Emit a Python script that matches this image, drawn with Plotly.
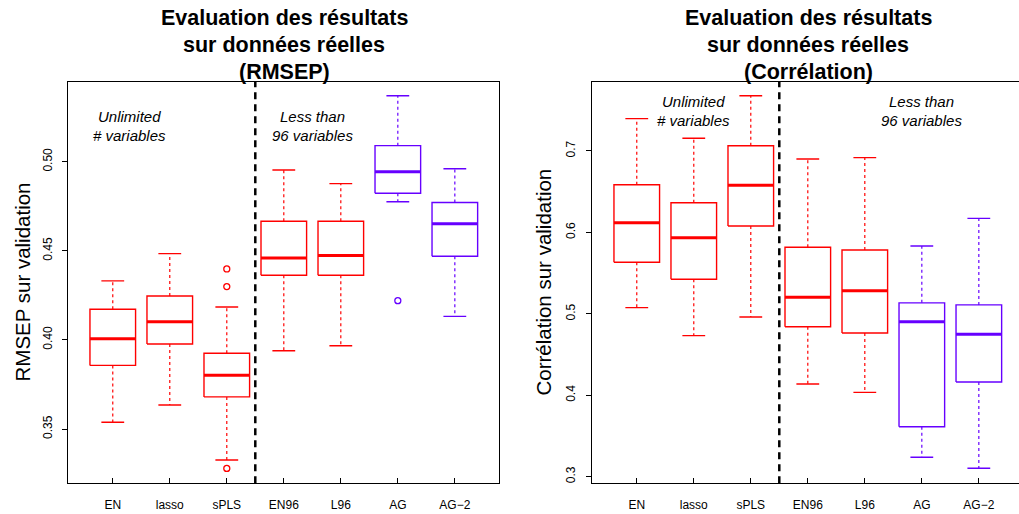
import plotly.graph_objects as go

# ---------------- data ----------------
categories = ["EN", "lasso", "sPLS", "EN96", "L96", "AG", "AG\u22122"]
box_colors = ["#FF0000", "#FF0000", "#FF0000", "#FF0000", "#FF0000", "#6600FF", "#6600FF"]

# RMSEP panel
rmsep_lower = [0.3538, 0.3635, 0.3326, 0.3939, 0.3967, 0.4775, 0.4132]
rmsep_q1 = [0.3857, 0.3977, 0.3680, 0.4363, 0.4363, 0.4823, 0.4469]
rmsep_median = [0.4007, 0.4102, 0.3801, 0.4460, 0.4473, 0.4943, 0.4652]
rmsep_q3 = [0.4172, 0.4246, 0.3925, 0.4666, 0.4666, 0.5090, 0.4771]
rmsep_upper = [0.4331, 0.4484, 0.4185, 0.4953, 0.4877, 0.5370, 0.4960]
rmsep_outlier_cat = ["sPLS", "sPLS", "sPLS", "AG"]
rmsep_outlier_val = [0.4398, 0.4299, 0.3279, 0.4220]
rmsep_ticks = [0.35, 0.40, 0.45, 0.50]
rmsep_ticktext = ["0.35", "0.40", "0.45", "0.50"]

# Correlation panel
corr_lower = [0.5076, 0.4732, 0.4961, 0.4139, 0.4036, 0.3238, 0.3103]
corr_q1 = [0.5633, 0.5424, 0.6079, 0.4842, 0.4765, 0.3614, 0.4163]
corr_median = [0.6120, 0.5935, 0.6579, 0.5203, 0.5284, 0.4904, 0.4749]
corr_q3 = [0.6586, 0.6365, 0.7065, 0.5817, 0.5784, 0.5135, 0.5110]
corr_upper = [0.7397, 0.7156, 0.7679, 0.6902, 0.6918, 0.5833, 0.6173]
corr_ticks = [0.3, 0.4, 0.5, 0.6, 0.7]
corr_ticktext = ["0.3", "0.4", "0.5", "0.6", "0.7"]

titles = [["Evaluation des résultats", "sur données réelles", "(RMSEP)"],
          ["Evaluation des résultats", "sur données réelles", "(Corrélation)"]]
ytitles = ["RMSEP sur validation", "Corrélation sur validation"]
group_notes = [["Unlimited", "# variables"], ["Less than", "96 variables"]]

# ---------------- layout helpers ----------------
W, H = 1019, 514
FONT = "Liberation Sans, Arial, sans-serif"


def px(x):
    return x / W


def py(y):
    return 1 - y / H


HALF = 0.4     # half box width (R boxwex 0.8)
CAP = 0.2      # half staple width
fig = go.Figure()


def add_boxes(xa, ya, lower, q1, med, q3, upper, out_cat, out_val):
    for col in sorted(set(box_colors)):
        idx = [i for i, c in enumerate(box_colors) if c == col]
        bx, by, mx, my, wx, wy, cx, cy = [], [], [], [], [], [], [], []
        for i in idx:
            p = i + 1
            bx += [p - HALF, p + HALF, p + HALF, p - HALF, p - HALF, None]
            by += [q1[i], q1[i], q3[i], q3[i], q1[i], None]
            mx += [p - HALF, p + HALF, None]
            my += [med[i], med[i], None]
            wx += [p, p, None, p, p, None]
            wy += [q3[i], upper[i], None, q1[i], lower[i], None]
            cx += [p - CAP, p + CAP, None, p - CAP, p + CAP, None]
            cy += [upper[i], upper[i], None, lower[i], lower[i], None]
        common = dict(xaxis=xa, yaxis=ya, mode="lines", showlegend=False, hoverinfo="skip")
        fig.add_trace(go.Scatter(x=wx, y=wy, line=dict(color=col, width=1.2, dash="3px,3px"), **common))
        fig.add_trace(go.Scatter(x=cx, y=cy, line=dict(color=col, width=1.4), **common))
        fig.add_trace(go.Scatter(x=bx, y=by, line=dict(color=col, width=1.4), **common))
        fig.add_trace(go.Scatter(x=mx, y=my, line=dict(color=col, width=3), **common))
    if out_cat:
        ox = [categories.index(c) + 1 for c in out_cat]
        oc = [box_colors[categories.index(c)] for c in out_cat]
        fig.add_trace(go.Scatter(x=ox, y=out_val, xaxis=xa, yaxis=ya, mode="markers",
                                 marker=dict(symbol="circle-open", size=6, color=oc, line=dict(width=1.3)),
                                 showlegend=False, hoverinfo="skip"))


add_boxes("x", "y", rmsep_lower, rmsep_q1, rmsep_median, rmsep_q3, rmsep_upper,
          rmsep_outlier_cat, rmsep_outlier_val)
add_boxes("x2", "y2", corr_lower, corr_q1, corr_median, corr_q3, corr_upper, [], [])

# plot regions (pixels)
L1, R1 = 68.3, 499.3
L2 = 592.3
TOP, BOT = 81.7, 483.3
UNIT = (R1 - L1) / 7.56
xr1 = [0.22, 7.78]
xr2 = [0.22, 0.22 + (W - L2) / UNIT]
yr1 = [0.31953, 0.54489]
yr2 = [0.2919, 0.7851]

axis_common = dict(showgrid=False, zeroline=False, showline=True, linecolor="black", linewidth=1,
                   ticks="outside", ticklen=5, tickwidth=1, tickcolor="black", automargin=False,
                   tickfont=dict(family=FONT, size=12, color="black"))
xcommon = dict(axis_common, tickvals=list(range(1, 8)), ticktext=categories, ticks="inside",
               ticklabelstandoff=10)

fig.update_layout(
    width=W, height=H, margin=dict(l=0, r=0, t=0, b=0, autoexpand=False),
    paper_bgcolor="white", plot_bgcolor="white",
    xaxis=dict(xcommon, domain=[px(L1), px(R1)], range=xr1, mirror=True, anchor="y"),
    yaxis=dict(axis_common, domain=[py(BOT), py(TOP)], range=yr1, mirror=True,
               tickvals=rmsep_ticks, ticktext=rmsep_ticktext, tickangle=-90, anchor="x",
               ticklabelstandoff=6),
    xaxis2=dict(xcommon, domain=[px(L2), 1.0], range=xr2, mirror=True, anchor="y2"),
    yaxis2=dict(axis_common, domain=[py(BOT), py(TOP)], range=yr2, mirror=False,
                tickvals=corr_ticks, ticktext=corr_ticktext, tickangle=-90, anchor="x2",
                ticklabelstandoff=7),
)

# separator dashed lines between groups
for xa, ya, yr in (("x", "y", yr1), ("x2", "y2", yr2)):
    fig.add_trace(go.Scatter(x=[3.5, 3.5], y=yr, xaxis=xa, yaxis=ya, mode="lines",
                             line=dict(color="black", width=2.5, dash="7px,5px"),
                             showlegend=False, hoverinfo="skip"))

ann = []
# titles
for cx, lines in ((284, titles[0]), (808, titles[1])):
    for k, t in enumerate(lines):
        ann.append(dict(x=px(cx), y=py(18 + 27 * k), xref="paper", yref="paper",
                        text="<b>%s</b>" % t, showarrow=False,
                        xanchor="center", yanchor="middle",
                        font=dict(family=FONT, size=21.5, color="black")))
# y titles
for cx, t in ((22, ytitles[0]), (543, ytitles[1])):
    ann.append(dict(x=px(cx), y=py((TOP + BOT) / 2), xref="paper", yref="paper",
                    text=t, textangle=-90, showarrow=False,
                    xanchor="center", yanchor="middle",
                    font=dict(family=FONT, size=20.5, color="black")))
# group notes
note_pos = [((129, 117), group_notes[0]), ((312, 117), group_notes[1]),
            ((693, 101.5), group_notes[0]), ((921, 101.5), group_notes[1])]
for (cx, cy), lines in note_pos:
    for k, t in enumerate(lines):
        ann.append(dict(x=px(cx), y=py(cy + 18.5 * k), xref="paper", yref="paper",
                        text="<i>%s</i>" % t, showarrow=False,
                        xanchor="center", yanchor="middle",
                        font=dict(family=FONT, size=15, color="black")))
fig.update_layout(annotations=ann)

# remove the browser's default page margin so the figure fills the window exactly
fig.write_html("out.html", config={"displayModeBar": False},
               post_script="document.body.style.margin='0';")
